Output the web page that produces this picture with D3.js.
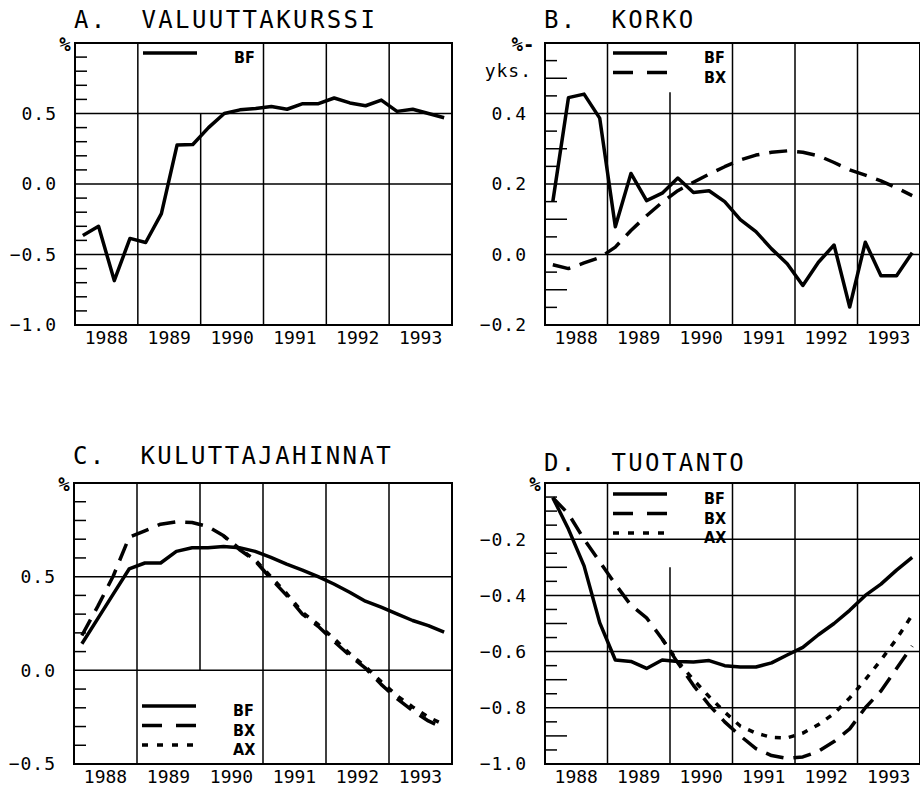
<!DOCTYPE html>
<html>
<head>
<meta charset="utf-8">
<script src="https://cdn.jsdelivr.net/npm/d3@7"></script>
<style>
body { margin: 0; background: #fff; }
svg text { font-family: "DejaVu Sans Mono", monospace; fill: #000; }
.title { white-space: pre; }
.legend-label { font-family: "Liberation Sans Narrow", "DejaVu Sans Condensed", sans-serif; font-weight: bold; }
</style>
</head>
<body>
<div id="chart-area"></div>
<script>
/*
*    four panels, quarterly effects 1988-1993
*/

var years = [1988, 1989, 1990, 1991, 1992, 1993];
var quarters = years.flatMap((y) => [y + "Q1", y + "Q2", y + "Q3", y + "Q4"]);

// A. valuuttakurssi
var fxBF = [-0.365, -0.30, -0.685, -0.386, -0.415, -0.21, 0.277, 0.28, 0.40, 0.50, 0.526, 0.535,
            0.55, 0.53, 0.57, 0.57, 0.61, 0.575, 0.555, 0.595, 0.515, 0.53, 0.50, 0.47];

// B. korko
var rateBF = [0.15, 0.445, 0.455, 0.387, 0.079, 0.23, 0.153, 0.174, 0.217, 0.176, 0.181, 0.15,
              0.099, 0.065, 0.016, -0.026, -0.088, -0.022, 0.027, -0.149, 0.035, -0.06, -0.06, 0.005];
var rateBX = [-0.029, -0.04, -0.024, -0.009, 0.021, 0.068, 0.11, 0.148, 0.181, 0.205, 0.228, 0.249,
              0.268, 0.282, 0.29, 0.294, 0.29, 0.28, 0.261, 0.24, 0.225, 0.209, 0.189, 0.167];

// C. kuluttajahinnat
var cpiBF = [0.142, 0.275, 0.408, 0.541, 0.573, 0.573, 0.635, 0.654, 0.654, 0.661, 0.655, 0.635,
             0.603, 0.567, 0.535, 0.50, 0.461, 0.417, 0.369, 0.337, 0.301, 0.266, 0.239, 0.204];
var cpiBX = [0.186, 0.34, 0.505, 0.71, 0.745, 0.78, 0.793, 0.789, 0.768, 0.718, 0.645, 0.585,
             0.49, 0.40, 0.30, 0.235, 0.155, 0.08, 0.012, -0.075, -0.151, -0.215, -0.27, -0.31];
var cpiAX = [null, null, null, null, null, null, null, null, null, 0.718, 0.65, 0.59,
             0.50, 0.41, 0.31, 0.245, 0.17, 0.09, 0.02, -0.06, -0.135, -0.195, -0.25, -0.29];

// D. tuotanto
var outBF = [-0.052, -0.164, -0.295, -0.497, -0.63, -0.635, -0.66, -0.63, -0.635, -0.637, -0.632, -0.65,
             -0.655, -0.655, -0.64, -0.612, -0.585, -0.54, -0.50, -0.453, -0.40, -0.36, -0.31, -0.265];
var outBX = [-0.052, -0.11, -0.20, -0.28, -0.36, -0.435, -0.48, -0.555, -0.64, -0.72, -0.79, -0.85,
             -0.90, -0.945, -0.97, -0.98, -0.975, -0.955, -0.92, -0.875, -0.80, -0.74, -0.66, -0.58];
var outAX = [null, null, null, null, null, null, null, -0.555, -0.635, -0.70, -0.76, -0.815,
             -0.865, -0.89, -0.905, -0.907, -0.89, -0.86, -0.82, -0.765, -0.70, -0.63, -0.555, -0.47];

var styles = {
	BF: null,
	BX: "18,10",
	AX: "6,8"
};
var legendDash = {
	BF: null,
	BX: "20,14",
	AX: "6,9"
};

var panels = [
	{ title: "A.  VALUUTTAKURSSI", left: 75, top: 43, width: 377, height: 282, titleDy: -15,
	  domain: [-1, 1], labels: [-1.0, -0.5, 0.0, 0.5], grid: [-0.5, 0.0, 0.5], minor: 20, long: [],
	  cut: [0.5, -1], unit: ["%"], legendTop: 10,
	  series: [["BF", fxBF]] },
	{ title: "B.  KORKO", left: 545, top: 43, width: 375, height: 282, titleDy: -15,
	  domain: [-0.2, 0.6], labels: [-0.2, 0.0, 0.2, 0.4], grid: [0.0, 0.2, 0.4], minor: 16, long: [0.5, 0.3, 0.1, -0.1],
	  cut: [0.46, -0.2], unit: ["%-", "yks."], legendTop: 10,
	  series: [["BF", rateBF], ["BX", rateBX]] },
	{ title: "C.  KULUTTAJAHINNAT", left: 74, top: 483, width: 378, height: 281, titleDy: -19,
	  domain: [-0.5, 1.0], labels: [-0.5, 0.0, 0.5], grid: [0.0, 0.5], minor: 15, long: [],
	  cut: [1.0, 0.0], unit: ["%"], legendTop: 223,
	  series: [["BF", cpiBF], ["BX", cpiBX], ["AX", cpiAX]] },
	{ title: "D.  TUOTANTO", left: 545, top: 483, width: 375, height: 281, titleDy: -12,
	  domain: [-1.0, 0.0], labels: [-1.0, -0.8, -0.6, -0.4, -0.2], grid: [-0.8, -0.6, -0.4, -0.2], minor: 20, long: [-0.3, -0.5, -0.7, -0.9],
	  cut: [-0.3, -1.0], unit: ["%"], legendTop: 11,
	  series: [["BF", outBF], ["BX", outBX], ["AX", outAX]] }
];

var svg = d3.select("#chart-area").append("svg").attr("width", 920).attr("height", 788);
var fmt = d3.format(".1f");
var near = (a, b) => Math.abs(a - b) < 1e-6;

panels.forEach((p) => {
	var g = svg.append("g").attr("transform", "translate(" + p.left + "," + p.top + ")");
	var x = d3.scaleBand().domain(quarters).range([0, p.width]);
	var y = d3.scaleLinear().domain(p.domain).range([p.height, 0]);
	var bw = x.bandwidth();

	// title
	g.append("text").attr("class", "title").attr("x", -1).attr("y", p.titleDy).attr("font-size", "24px")
		.attr("letter-spacing", "2.4px").text(p.title);

	// minor ticks on the left edge
	y.ticks(p.minor).filter((v) => !p.grid.some((m) => near(m, v)) && !near(v, p.domain[0]) && !near(v, p.domain[1]))
		.forEach((v) => {
			var len = p.long.some((l) => near(l, v)) ? 22 : 12;
			g.append("line").attr("x1", 0).attr("x2", len).attr("y1", y(v)).attr("y2", y(v))
				.attr("stroke", "#000").attr("stroke-width", 1.5);
		});

	// horizontal grid
	g.selectAll(".hgrid").data(p.grid).enter().append("line").attr("class", "hgrid")
		.attr("x1", 0).attr("x2", p.width).attr("y1", (d) => y(d)).attr("y2", (d) => y(d))
		.attr("stroke", "#000").attr("stroke-width", 1.5);

	// vertical grid at year boundaries
	years.slice(1).forEach((yr) => {
		var xx = x(yr + "Q1");
		var y1 = 0, y2 = p.height;
		if (yr === 1990) { y1 = y(p.cut[0]); y2 = y(p.cut[1]); }
		g.append("line").attr("x1", xx).attr("x2", xx).attr("y1", y1).attr("y2", y2)
			.attr("stroke", "#000").attr("stroke-width", 1.5);
	});

	// frame
	g.append("rect").attr("width", p.width).attr("height", p.height)
		.attr("fill", "none").attr("stroke", "#000").attr("stroke-width", 2);

	// y labels
	g.selectAll(".ylab").data(p.labels).enter().append("text").attr("class", "ylab")
		.attr("x", -18).attr("y", (d) => y(d)).attr("dy", "0.36em")
		.attr("text-anchor", "end").attr("font-size", "18px").attr("letter-spacing", "1px")
		.text((d) => fmt(d));

	// unit
	if (p.unit.length === 1) {
		g.append("text").attr("x", -10).attr("y", 8).attr("text-anchor", "middle")
			.attr("font-size", "19px").attr("font-weight", "bold").text(p.unit[0]);
	} else {
		g.append("text").attr("x", -22).attr("y", 8).attr("text-anchor", "middle")
			.attr("font-size", "19px").attr("font-weight", "bold").text(p.unit[0]);
		g.append("text").attr("x", -13).attr("y", 34).attr("text-anchor", "end")
			.attr("font-size", "18px").attr("letter-spacing", "1px").text(p.unit[1]);
	}

	// x labels
	g.selectAll(".xlab").data(years).enter().append("text").attr("class", "xlab")
		.attr("x", (d) => x(d + "Q1") + 2 * bw).attr("y", p.height + 19)
		.attr("text-anchor", "middle").attr("font-size", "18px").text((d) => d);

	// series
	var line = d3.line().defined((d) => d.v !== null)
		.x((d) => x(d.q) + bw / 2).y((d) => y(d.v));
	p.series.forEach((s) => {
		var pts = quarters.map((q, i) => ({ q: q, v: s[1][i] }));
		g.append("path").datum(pts).attr("d", line)
			.attr("fill", "none").attr("stroke", "#000").attr("stroke-width", 3.5)
			.attr("stroke-linejoin", "round")
			.attr("stroke-dasharray", styles[s[0]]);
	});

	// legend
	p.series.forEach((s, i) => {
		var ly = p.legendTop + i * 19.5;
		g.append("line").attr("x1", 68).attr("x2", 122).attr("y1", ly).attr("y2", ly)
			.attr("stroke", "#000").attr("stroke-width", 3.5)
			.attr("stroke-dasharray", legendDash[s[0]]);
		g.append("text").attr("class", "legend-label").attr("x", 159).attr("y", ly + 10)
			.attr("font-size", "16px").text(s[0]);
	});
});
</script>
</body>
</html>
